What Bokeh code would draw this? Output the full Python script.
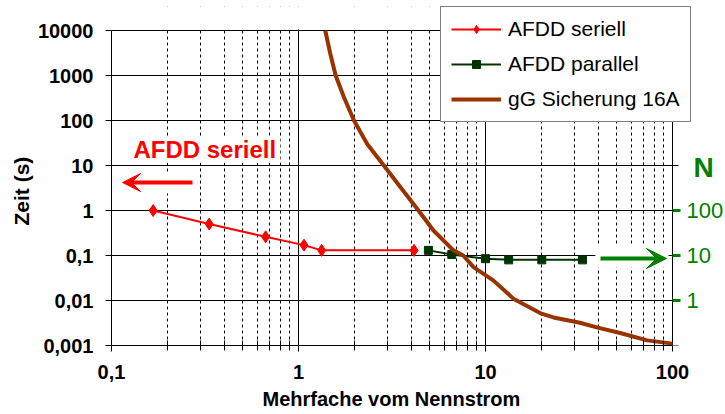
from bokeh.plotting import figure
from bokeh.models import (Range1d, FixedTicker, Label, Arrow, VeeHead, BoxAnnotation, Title)
from bokeh.embed import file_html
from bokeh.resources import INLINE

# ---------------- data ----------------
seriell_x = [0.167, 0.333, 0.667, 1.07, 1.33, 4.15]
seriell_t = [1.0, 0.5, 0.26, 0.17, 0.13, 0.13]

parallel_x = [4.95, 6.6, 10.0, 13.3, 20.0, 33.0]
parallel_t = [0.13, 0.105, 0.085, 0.08, 0.08, 0.08]

fuse_x = [1.39, 1.48, 1.58, 1.75, 1.98, 2.33, 2.86, 3.51, 4.31, 5.27, 6.74, 7.6,
          8.63, 11.0, 14.1, 19.7, 23.1, 32.0, 39.8, 52.5, 73.2, 100.0]
fuse_t = [10000, 3000, 1000, 330, 100, 30, 10, 3.3, 1.09, 0.36, 0.13, 0.1,
          0.055, 0.028, 0.011, 0.0052, 0.0042, 0.0032, 0.0025, 0.0019, 0.0013, 0.0011]

x_ticks = [0.1, 1, 10, 100]
x_tick_labels = ["0,1", "1", "10", "100"]
y_ticks = [0.001, 0.01, 0.1, 1, 10, 100, 1000, 10000]
y_tick_labels = ["0,001", "0,01", "0,1", "1", "10", "100", "1000", "10000"]
n_ticks = [1, 10, 100]
n_tick_labels = ["1", "10", "100"]
N_PER_T = 100.0          # secondary scale: N = 100 * Zeit

series_names = ["AFDD seriell", "AFDD parallel", "gG Sicherung 16A"]

FONT = "Liberation Sans"
RED = "#FF0000"
DKGREEN = "#003300"
BROWN = "#993300"
GREEN = "#008000"

X0, X1 = 0.1, 100.0        # visible data area
Y0, Y1 = 0.001, 10000.0
PXD_X, PXD_Y = 187.0, 45.0  # pixels per decade
# frame is extended above / right so legend and right-hand texts are not clipped
XMAX = X1 * 10 ** (53 / PXD_X)
YMAX = Y1 * 10 ** (24 / PXD_Y)

p = figure(width=725, height=414, x_axis_type="log", y_axis_type="log",
           x_range=Range1d(X0, XMAX), y_range=Range1d(Y0, YMAX),
           output_backend="svg", toolbar_location=None,
           min_border_left=111, min_border_right=0,
           min_border_top=6, min_border_bottom=69)
p.background_fill_color = "white"
p.border_fill_color = "white"
p.outline_line_color = None

# ticks
x_minor = [t * k for t in x_ticks[:-1] for k in range(2, 10)]
xt = FixedTicker(ticks=x_ticks, minor_ticks=x_minor)
yt = FixedTicker(ticks=y_ticks, minor_ticks=[])
p.xaxis.ticker = xt
p.yaxis.ticker = yt
p.xgrid.ticker = xt
p.ygrid.ticker = yt
p.xaxis.major_label_overrides = dict(zip(x_ticks, x_tick_labels))
p.yaxis.major_label_overrides = dict(zip(y_ticks, y_tick_labels))
p.xaxis.bounds = (X0, X1)
p.yaxis.bounds = (Y0, Y1)

# grids
p.xgrid.grid_line_color = "black"
p.xgrid.grid_line_alpha = 1
p.xgrid.minor_grid_line_color = "black"
p.xgrid.minor_grid_line_dash = "3 3"
p.ygrid.grid_line_color = "black"
p.ygrid.grid_line_alpha = 1
p.ygrid.minor_grid_line_color = None

# axes styling
for ax in (p.xaxis[0], p.yaxis[0]):
    ax.axis_line_color = "black"
    ax.major_tick_line_color = "black"
    ax.major_label_text_font = FONT
    ax.major_label_text_font_style = "bold"
    ax.major_label_text_font_size = "20px"
    ax.major_label_text_color = "black"

p.xaxis.major_tick_out = 6
p.xaxis.major_tick_in = 0
p.xaxis.minor_tick_out = 5
p.xaxis.minor_tick_in = 5
p.xaxis.minor_tick_line_color = "black"
p.xaxis.major_label_standoff = 13

p.yaxis.major_tick_out = 6
p.yaxis.major_tick_in = 0
p.yaxis.minor_tick_line_color = None
p.yaxis.major_label_standoff = 12

# axis titles (as titles so that they can be placed like the reference)
p.add_layout(Title(text="Mehrfache vom Nennstrom", align="left", offset=151,
                   standoff=8, text_font=FONT, text_font_style="bold",
                   text_font_size="20px", text_color="black"), "below")
p.add_layout(Title(text="Zeit (s)", align="left", offset=120, standoff=3,
                   text_font=FONT, text_font_style="bold", text_font_size="21px",
                   text_color="black"), "left")

# white masks: hide the grid outside the visible data area
p.add_layout(BoxAnnotation(left=X0, right=XMAX, bottom=Y1 * 10 ** (1 / PXD_Y), top=YMAX,
                           fill_color="white", fill_alpha=1, line_color=None,
                           level="underlay"))
p.add_layout(BoxAnnotation(left=X1 * 10 ** (1 / PXD_X), right=XMAX, bottom=Y0, top=YMAX,
                           fill_color="white", fill_alpha=1, line_color=None,
                           level="underlay"))

# white patches behind annotations (they hide the grid there)
for l, r, b, t in [(0.1265, 0.80, 11.7, 44.0), (0.109, 0.285, 2.39, 7.0),
                   (38.7, 95.2, 0.054, 0.175)]:
    p.add_layout(BoxAnnotation(left=l, right=r, bottom=b, top=t, fill_color="white",
                               fill_alpha=1, line_color=None, level="underlay"))

# right-hand ticks: black at the time decades, green for the N scale
tick_end6 = X1 * 10 ** (6 / PXD_X)
tick_end8 = X1 * 10 ** (8 / PXD_X)
p.segment(x0=[X1] * len(y_ticks), y0=y_ticks, x1=[tick_end6] * len(y_ticks), y1=y_ticks,
          line_color="black", line_width=1)
n_pos = [n / N_PER_T for n in n_ticks]
p.segment(x0=[X1] * len(n_pos), y0=n_pos, x1=[tick_end8] * len(n_pos), y1=n_pos,
          line_color=GREEN, line_width=3)
for pos, lbl in zip(n_pos, n_tick_labels):
    p.add_layout(Label(x=X1 * 10 ** (14 / PXD_X), y=pos, text=lbl, text_color=GREEN,
                       text_font=FONT, text_font_size="22px", text_baseline="middle"))

# series
p.line(seriell_x, seriell_t, color=RED, line_width=2, legend_label=series_names[0])
p.scatter(seriell_x, seriell_t, marker="diamond", size=12, color=RED,
          legend_label=series_names[0])
p.line(parallel_x, parallel_t, color=DKGREEN, line_width=2, legend_label=series_names[1])
p.scatter(parallel_x, parallel_t, marker="square", size=8, color=DKGREEN,
          legend_label=series_names[1])
p.line(fuse_x, fuse_t, color=BROWN, line_width=4, legend_label=series_names[2])

# annotations
p.add_layout(Label(x=0.131, y=23.0, text="AFDD seriell", text_color=RED,
                   text_font=FONT, text_font_style="bold", text_font_size="24px",
                   text_baseline="middle"))
p.add_layout(Arrow(x_start=0.271, y_start=4.19, x_end=0.1146, y_end=4.19,
                   line_color=RED, line_width=4,
                   end=VeeHead(size=18, fill_color=RED, line_color=RED)))
p.add_layout(Arrow(x_start=41.2, y_start=0.0858, x_end=92.9, y_end=0.0858,
                   line_color=GREEN, line_width=4,
                   end=VeeHead(size=20, fill_color=GREEN, line_color=GREEN)))
p.add_layout(Label(x=129.5, y=8.89, text="N", text_color=GREEN, text_font=FONT,
                   text_font_style="bold", text_font_size="28px",
                   text_baseline="middle"))

# legend
lg = p.legend[0]
lg.location = (329, 223)
lg.label_text_font = FONT
lg.label_text_font_size = "21px"
lg.label_text_color = "black"
lg.glyph_width = 50
lg.glyph_height = 20
lg.label_height = 20
lg.label_standoff = 7
lg.spacing = 11
lg.padding = 10
lg.margin = 0
lg.border_line_color = "black"
lg.border_line_width = 1
lg.background_fill_color = "white"
lg.background_fill_alpha = 1

open("out.html", "w").write(file_html(p, INLINE))
